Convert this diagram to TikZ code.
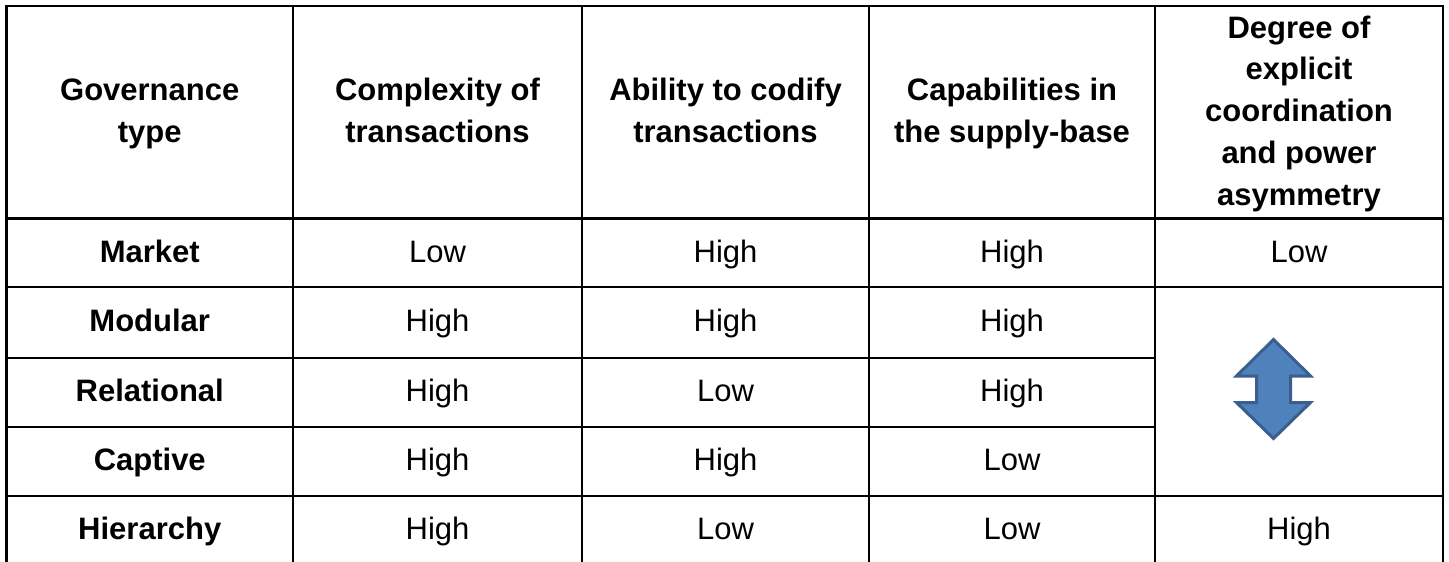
\documentclass[tikz,border=0pt]{standalone}
\usepackage{fontspec}
\setmainfont{Liberation Sans}
\definecolor{arrowfill}{HTML}{4F81BD}
\definecolor{arrowline}{HTML}{3A5F8C}
\newcommand\cellstrut{\rule[-0.25em]{0pt}{1.1em}}
\begin{document}
\begin{tikzpicture}[x=1pt,y=-1pt,
  gridline/.style={line width=2.6pt, black},
  hd/.style={font=\fontsize{31}{41.7}\selectfont\bfseries, align=center, inner sep=0pt, anchor=center},
  cell/.style={font=\fontsize{31}{41.7}\selectfont, inner sep=0pt, anchor=center},
  rowhd/.style={font=\fontsize{31}{41.7}\selectfont\bfseries, inner sep=0pt, anchor=center},
  updown/.style={fill=arrowfill, draw=arrowline, line width=3pt, line join=miter}]
\useasboundingbox (0,0) rectangle (1449,562);

% grid
\draw[gridline] (6.5,562) -- (6.5,6) -- (1443,6) -- (1443,562);
\foreach \x in {293,582,869,1155} \draw[gridline] (\x,6) -- (\x,562);
\foreach \y in {218.7,287,496} \draw[gridline] (6.5,\y) -- (1443,\y);
\foreach \y in {358,427} \draw[gridline] (6.5,\y) -- (1155,\y);

% header
\node[hd] (h1) at (149.75,112.35) {\cellstrut Governance\\\cellstrut type};
\node[hd] (h2) at (437.5,112.35) {\cellstrut Complexity of\\\cellstrut transactions};
\node[hd] (h3) at (725.5,112.35) {\cellstrut Ability to codify\\\cellstrut transactions};
\node[hd] (h4) at (1012,112.35) {\cellstrut Capabilities in\\\cellstrut the supply-base};
\node[hd] (h5) at (1299,112.35) {\cellstrut Degree of\\\cellstrut explicit\\\cellstrut coordination\\\cellstrut and power\\\cellstrut asymmetry};

% Market
\node[rowhd] (r1) at (149.75,252.85) {\cellstrut Market};
\node[cell] (r1c2) at (437.5,252.85) {\cellstrut Low};
\node[cell] (r1c3) at (725.5,252.85) {\cellstrut High};
\node[cell] (r1c4) at (1012,252.85) {\cellstrut High};
\node[cell] (r1c5) at (1299,252.85) {\cellstrut Low};

% Modular
\node[rowhd] (r2) at (149.75,322.5) {\cellstrut Modular};
\node[cell] (r2c2) at (437.5,322.5) {\cellstrut High};
\node[cell] (r2c3) at (725.5,322.5) {\cellstrut High};
\node[cell] (r2c4) at (1012,322.5) {\cellstrut High};

% Relational
\node[rowhd] (r3) at (149.75,392.5) {\cellstrut Relational};
\node[cell] (r3c2) at (437.5,392.5) {\cellstrut High};
\node[cell] (r3c3) at (725.5,392.5) {\cellstrut Low};
\node[cell] (r3c4) at (1012,392.5) {\cellstrut High};

% Captive
\node[rowhd] (r4) at (149.75,461.5) {\cellstrut Captive};
\node[cell] (r4c2) at (437.5,461.5) {\cellstrut High};
\node[cell] (r4c3) at (725.5,461.5) {\cellstrut High};
\node[cell] (r4c4) at (1012,461.5) {\cellstrut Low};

% Hierarchy
\node[rowhd] (r5) at (149.75,530.5) {\cellstrut Hierarchy};
\node[cell] (r5c2) at (437.5,530.5) {\cellstrut High};
\node[cell] (r5c3) at (725.5,530.5) {\cellstrut Low};
\node[cell] (r5c4) at (1012,530.5) {\cellstrut Low};
\node[cell] (r5c5) at (1299,530.5) {\cellstrut High};

% up-down arrow
\draw[updown] (1273.5,339.5) -- (1310.5,376) -- (1290.5,376) -- (1290.5,402.5)
  -- (1310.5,402.5) -- (1273.5,438.5) -- (1236.5,402.5) -- (1256.5,402.5)
  -- (1256.5,376) -- (1236.5,376) -- cycle;
\end{tikzpicture}
\end{document}
